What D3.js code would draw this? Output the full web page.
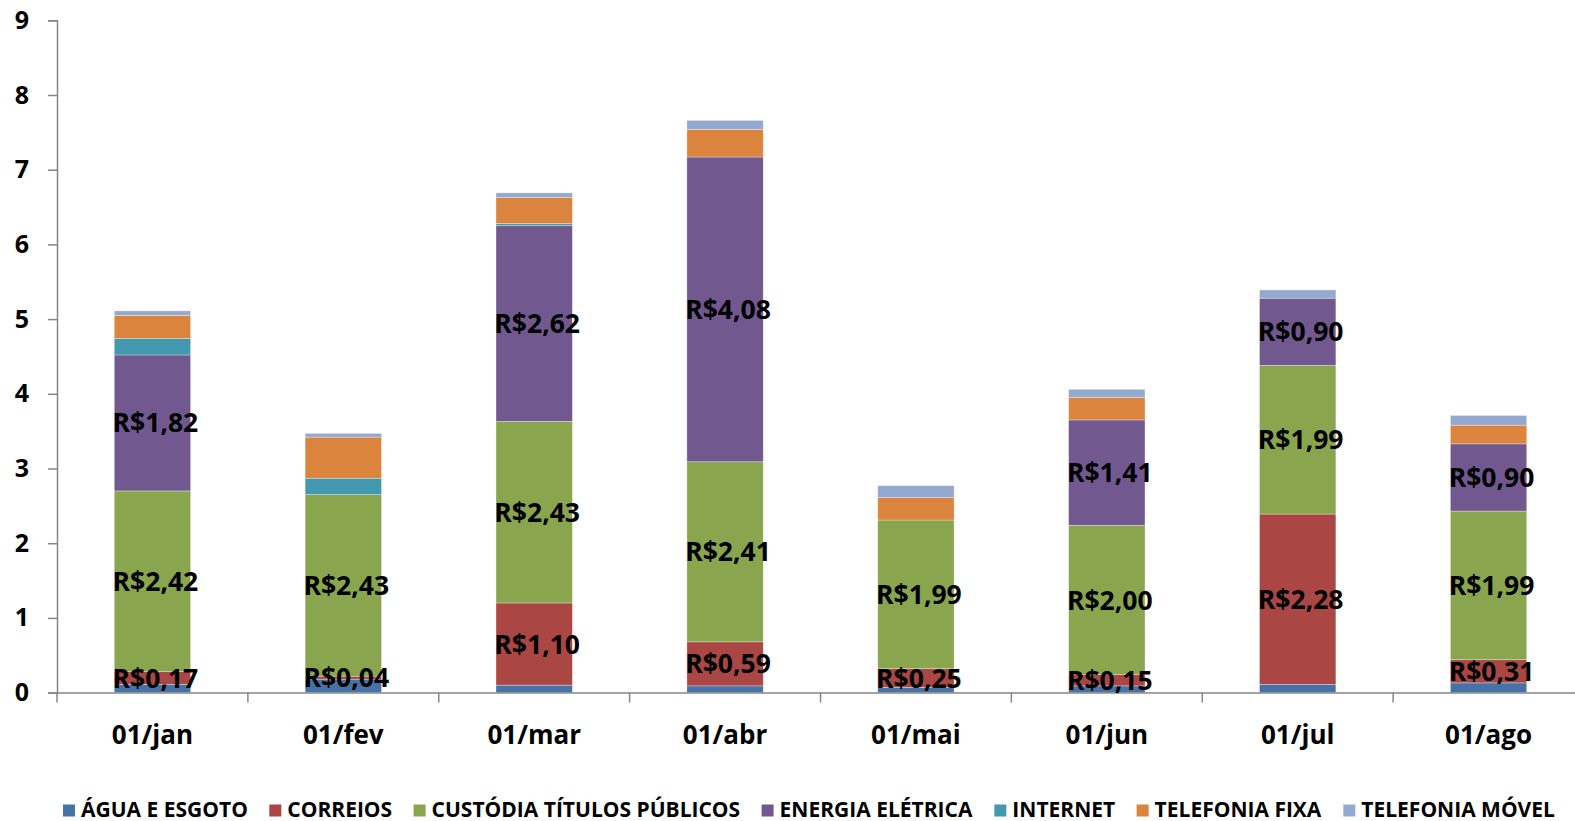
<!DOCTYPE html>
<html>
<head>
<meta charset="utf-8">
<script src="https://cdn.jsdelivr.net/npm/d3@7"></script>
<style>
    body { margin: 0; background: #fff; }
    svg { display: block; font-family: "Open Sans", "Noto Sans", sans-serif; }
</style>
</head>
<body>
<div id="chart"></div>
<script>
// Months on the x axis
const months = ["01/jan", "01/fev", "01/mar", "01/abr", "01/mai", "01/jun", "01/jul", "01/ago"];

// Series names (legend order, bottom to top in the stack)
const seriesNames = ["ÁGUA E ESGOTO", "CORREIOS", "CUSTÓDIA TÍTULOS PÚBLICOS", "ENERGIA ELÉTRICA", "INTERNET", "TELEFONIA FIXA", "TELEFONIA MÓVEL"];
const seriesColors = ["#4572A7", "#AA4643", "#89A54E", "#71588F", "#4198AF", "#DB843D", "#93A9CF"];

// Values
const agua = [0.11, 0.18, 0.10, 0.09, 0.07, 0.09, 0.11, 0.13];
const correios = [0.17, 0.04, 1.10, 0.59, 0.25, 0.15, 2.28, 0.31];
const custodia = [2.42, 2.43, 2.43, 2.41, 1.99, 2.00, 1.99, 1.99];
const energia = [1.82, 0, 2.62, 4.08, 0, 1.41, 0.90, 0.90];
const internet = [0.22, 0.22, 0.03, 0, 0, 0, 0, 0];
const telefoniaFixa = [0.31, 0.55, 0.35, 0.37, 0.30, 0.30, 0, 0.25];
const telefoniaMovel = [0.06, 0.05, 0.06, 0.12, 0.16, 0.11, 0.11, 0.13];

const yTicks = [0, 1, 2, 3, 4, 5, 6, 7, 8, 9];

// Only these series carry a value label
const labelledSeries = ["CORREIOS", "CUSTÓDIA TÍTULOS PÚBLICOS", "ENERGIA ELÉTRICA"];

const seriesValues = [agua, correios, custodia, energia, internet, telefoniaFixa, telefoniaMovel];

// Build a table the stack layout can use
const table = months.map((m, i) => {
    const row = { month: m };
    seriesNames.forEach((name, s) => { row[name] = seriesValues[s][i]; });
    return row;
});

const width = 1575, height = 821;
const svg = d3.select("#chart")
    .append("svg")
    .attr("width", width)
    .attr("height", height);

// the last category runs a little past the right edge in the original
const x = d3.scaleBand()
    .domain(months)
    .range([57, 1584])
    .padding(0);

const y = d3.scaleLinear()
    .domain([0, 9])
    .range([692.6, 20.3]);

const barWidth = x.bandwidth() * 0.40;

const stacked = d3.stack().keys(seriesNames)(table);

const fmt = v => "R$" + v.toFixed(2).replace(".", ",");

// Bars
const layers = svg.append("g")
    .selectAll("g")
    .data(stacked)
    .join("g")
    .attr("fill", (d, i) => seriesColors[i]);

layers.selectAll("rect")
    .data(d => d)
    .join("rect")
    .attr("x", d => x(d.data.month) + (x.bandwidth() - barWidth) / 2)
    .attr("y", d => y(d[1]))
    .attr("width", barWidth)
    .attr("height", d => Math.max(0, y(d[0]) - y(d[1])))
    .attr("stroke", "rgba(255,255,255,0.45)")
    .attr("stroke-width", 0.7);

// Axes
const axisColor = "#868686";

const yAxis = svg.append("g")
    .attr("transform", "translate(57,0)")
    .call(d3.axisLeft(y).tickValues(yTicks).tickSize(9).tickPadding(0).tickFormat(d3.format("d")))
    .attr("font-family", null);
yAxis.select(".domain").attr("stroke", axisColor).attr("stroke-width", 1.5);
yAxis.selectAll(".tick line").attr("stroke", axisColor).attr("stroke-width", 1.5);
yAxis.selectAll(".tick text")
    .attr("x", -28)
    .attr("fill", "#000")
    .style("font-size", "25px")
    .style("font-weight", "bold");

const xAxis = svg.append("g")
    .attr("transform", `translate(0,${y(0)})`)
    .call(d3.axisBottom(x).tickSize(0).tickPadding(0))
    .attr("font-family", null);
xAxis.select(".domain").attr("stroke", axisColor).attr("stroke-width", 1.5);
xAxis.selectAll(".tick text")
    .attr("y", 51)
    .attr("dy", 0)
    .attr("fill", "#000")
    .style("font-size", "26px")
    .style("font-weight", "bold");

// tick marks between categories
svg.append("g")
    .selectAll("line")
    .data(months)
    .join("line")
    .attr("x1", d => x(d))
    .attr("x2", d => x(d))
    .attr("y1", y(0))
    .attr("y2", y(0) + 10)
    .attr("stroke", axisColor)
    .attr("stroke-width", 1.5);

// Value labels
const labels = [];
stacked.forEach(layer => {
    if (!labelledSeries.includes(layer.key)) return;
    layer.forEach(d => {
        const v = d[1] - d[0];
        if (v > 0) labels.push({ month: d.data.month, mid: (d[0] + d[1]) / 2, value: v });
    });
});

svg.append("g")
    .selectAll("text")
    .data(labels)
    .join("text")
    .attr("x", d => x(d.month) + x.bandwidth() / 2 + 3)
    .attr("y", d => y(d.mid))
    .attr("dy", "0.36em")
    .attr("text-anchor", "middle")
    .style("font-size", "26.5px")
    .style("font-weight", "bold")
    .text(d => fmt(d.value));

// Legend
const legend = svg.append("g");
const items = legend.selectAll("g")
    .data(seriesNames)
    .join("g");

items.append("rect")
    .attr("width", 12)
    .attr("height", 12)
    .attr("y", 804.5)
    .attr("fill", (d, i) => seriesColors[i]);

items.append("text")
    .attr("x", 18)
    .attr("y", 816.5)
    .style("font-size", "21px")
    .style("font-weight", "bold")
    .text(d => d);

// spread the legend items between the left and right edges
const widths = [];
items.each(function () { widths.push(this.getBBox().width); });
const legendLeft = 63, legendRight = 1555;
const gap = (legendRight - legendLeft - d3.sum(widths)) / (widths.length - 1);
let pos = legendLeft;
items.attr("transform", (d, i) => {
    const t = `translate(${pos},0)`;
    pos += widths[i] + gap;
    return t;
});
</script>
</body>
</html>
